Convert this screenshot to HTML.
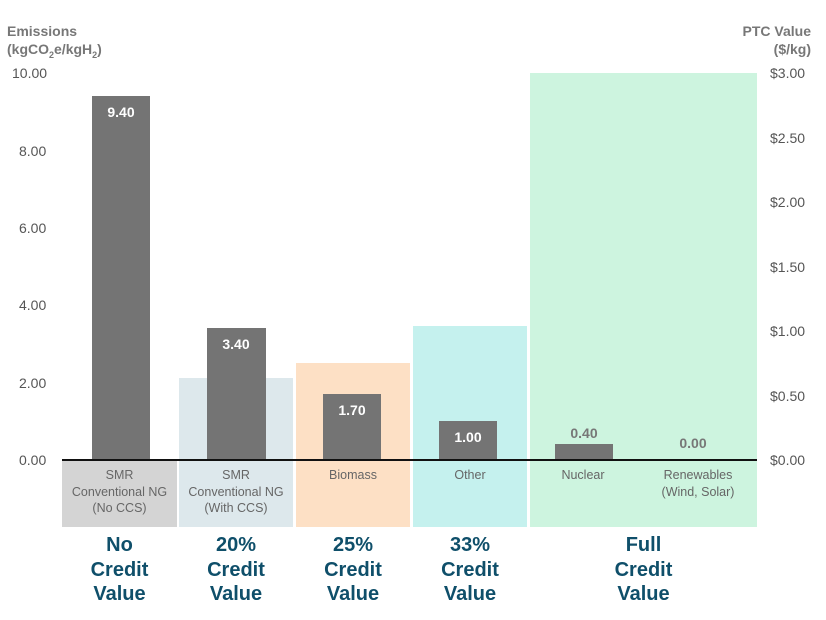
<!DOCTYPE html><html><head><style>
body{margin:0;width:826px;height:620px;background:#fff;position:relative;font-family:"Liberation Sans",Arial,sans-serif;overflow:hidden}
div{position:absolute}
.bar{background:#747474}
.v{color:#fff;font-weight:bold;font-size:14px;text-align:center;width:58px}
.yl{color:#555;font-size:14px;width:60px}
.cl{color:#666;font-size:12.5px;text-align:center;line-height:16.5px;top:467px}
.big{color:#0f4f6a;font-weight:bold;font-size:20px;text-align:center;line-height:24.5px;top:533px}
</style></head><body>
<div style="left:62px;top:460px;width:115px;height:67px;background:#d4d4d4"></div>
<div style="left:179px;top:378px;width:114px;height:149px;background:#dde8ec"></div>
<div style="left:296px;top:363px;width:114px;height:164px;background:#fde0c5"></div>
<div style="left:413px;top:326px;width:114px;height:201px;background:#c5f1ee"></div>
<div style="left:530px;top:73px;width:227px;height:454px;background:#cdf4df"></div>
<div class="bar" style="left:92px;top:96px;width:58px;height:363px"></div>
<div class="bar" style="left:207px;top:328px;width:59px;height:131px"></div>
<div class="bar" style="left:323px;top:394px;width:58px;height:65px"></div>
<div class="bar" style="left:439px;top:421px;width:58px;height:38px"></div>
<div class="bar" style="left:555px;top:444px;width:58px;height:15px"></div>
<div style="left:62px;top:459px;width:695px;height:2px;background:#111"></div>
<div class="v" style="left:92px;top:104px">9.40</div>
<div class="v" style="left:207px;top:336px">3.40</div>
<div class="v" style="left:323px;top:402px">1.70</div>
<div class="v" style="left:439px;top:429px">1.00</div>
<div class="v" style="left:555px;top:425px;color:#777">0.40</div>
<div class="v" style="left:664px;top:435px;color:#777">0.00</div>
<div style="left:7px;top:22px;color:#777;font-weight:bold;font-size:14px;line-height:18px">Emissions<br>(kgCO<sub style="font-size:9px">2</sub>e/kgH<sub style="font-size:9px">2</sub>)</div>
<div style="left:700px;top:22px;width:111px;text-align:right;color:#777;font-weight:bold;font-size:14px;line-height:18px">PTC Value<br>($/kg)</div>
<div class="yl" style="left:12px;top:65px">10.00</div>
<div class="yl" style="left:19px;top:143px">8.00</div>
<div class="yl" style="left:19px;top:220px">6.00</div>
<div class="yl" style="left:19px;top:297px">4.00</div>
<div class="yl" style="left:19px;top:375px">2.00</div>
<div class="yl" style="left:19px;top:452px">0.00</div>
<div class="yl" style="left:770px;top:65px">$3.00</div>
<div class="yl" style="left:770px;top:130px">$2.50</div>
<div class="yl" style="left:770px;top:194px">$2.00</div>
<div class="yl" style="left:770px;top:259px">$1.50</div>
<div class="yl" style="left:770px;top:323px">$1.00</div>
<div class="yl" style="left:770px;top:388px">$0.50</div>
<div class="yl" style="left:770px;top:452px">$0.00</div>
<div class="cl" style="left:62px;width:115px">SMR<br>Conventional NG<br>(No CCS)</div>
<div class="cl" style="left:179px;width:114px">SMR<br>Conventional NG<br>(With CCS)</div>
<div class="cl" style="left:296px;width:114px">Biomass</div>
<div class="cl" style="left:413px;width:114px">Other</div>
<div class="cl" style="left:526px;width:114px">Nuclear</div>
<div class="cl" style="left:641px;width:114px">Renewables<br>(Wind, Solar)</div>
<div class="big" style="left:62px;width:115px">No<br>Credit<br>Value</div>
<div class="big" style="left:179px;width:114px">20%<br>Credit<br>Value</div>
<div class="big" style="left:296px;width:114px">25%<br>Credit<br>Value</div>
<div class="big" style="left:413px;width:114px">33%<br>Credit<br>Value</div>
<div class="big" style="left:530px;width:227px">Full<br>Credit<br>Value</div>
</body></html>
